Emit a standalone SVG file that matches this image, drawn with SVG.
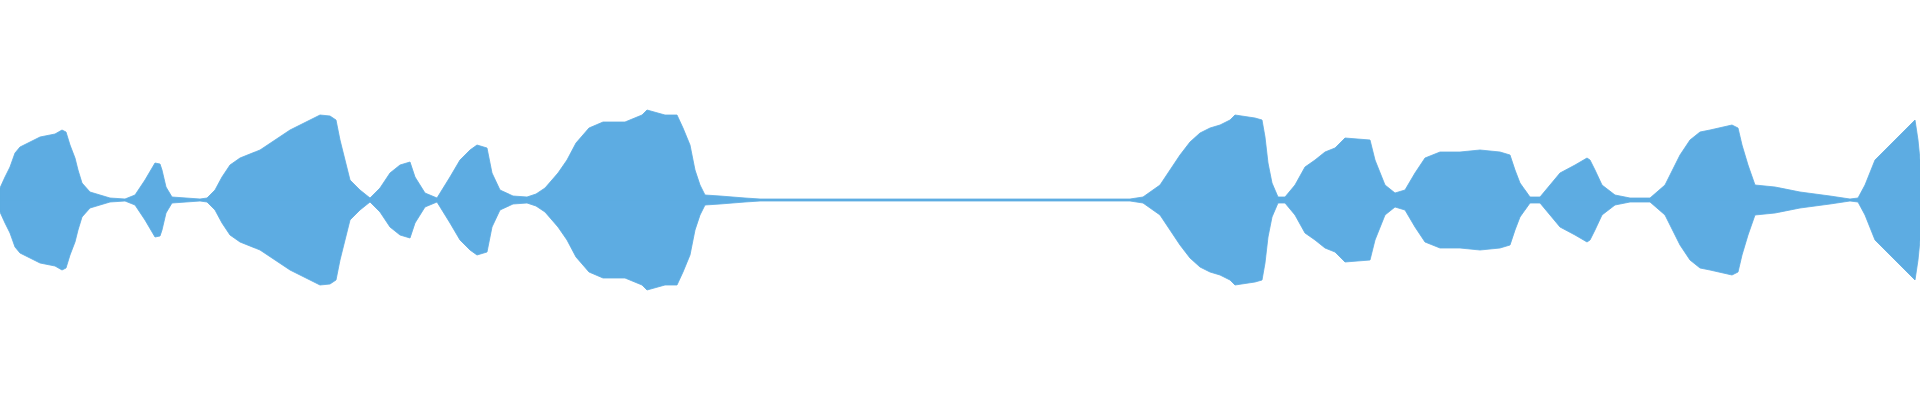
<svg xmlns="http://www.w3.org/2000/svg" xmlns:xlink="http://www.w3.org/1999/xlink" width="1920" height="400" viewBox="0 0 1920 400">
<style>.w{fill:#5DACE2;stroke:#5DACE2;stroke-width:0.8}</style>
<defs>
<path id="half" d="M0,200 L0,188 5,177 10,167 15,153 20,147 30,142 40,137 55,134 62,130 66,132 70,145 75,158 78,170 82,183 90,192 100,195 110,198 125,199 135,195 145,180 155,163 160,164 162,170 166,187 172,197 200,199 207,198 215,190 222,177 230,165 240,158 260,150 275,140 290,130 310,120 320,115 330,116 336,120 340,140 345,160 350,180 360,190 370,198 380,188 390,173 400,165 410,162 415,177 425,193 437,198 450,177 460,160 470,150 477,145 487,148 492,173 500,190 513,196 527,197 536,194 545,188 558,173 567,160 576,143 589,128 603,122 625,122 642,115 647,110 665,115 677,115 683,128 690,145 695,170 700,185 705,195 720,196 745,198 760,199 1130,199 1143,197 1160,185 1170,170 1180,155 1190,142 1200,133 1210,128 1220,125 1230,120 1235,115 1255,118 1262,120 1265,137 1268,163 1272,183 1278,197 1285,197 1295,185 1305,167 1315,160 1325,152 1335,148 1345,138 1370,140 1375,160 1385,185 1395,193 1405,190 1415,173 1425,158 1440,152 1460,152 1480,150 1500,152 1510,155 1515,170 1520,183 1530,197 1540,197 1550,185 1560,173 1575,165 1587,158 1590,160 1595,170 1602,185 1615,195 1630,198 1650,198 1665,185 1680,155 1690,140 1700,132 1710,130 1732,125 1738,128 1742,145 1748,165 1755,185 1775,187 1800,192 1830,196 1850,199 1858,198 1865,185 1875,160 1890,145 1900,135 1910,125 1915,120 1918,140 1920,160 L1920,200 Z"/>
</defs>
<rect width="1920" height="400" fill="#fff"/>
<g id="waveform">
<use xlink:href="#half" class="w"/>
<use xlink:href="#half" class="w" transform="translate(0,400) scale(1,-1)"/>
</g>
</svg>
